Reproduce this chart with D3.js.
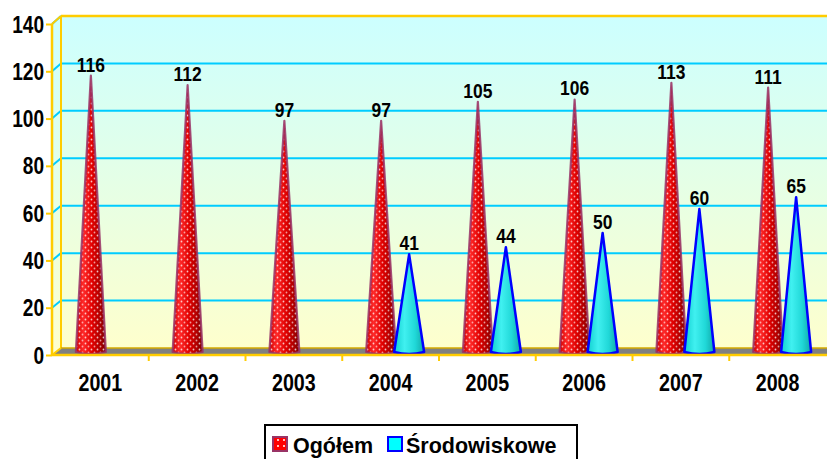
<!DOCTYPE html>
<html><head><meta charset="utf-8">
<script src="https://cdn.jsdelivr.net/npm/d3@7/dist/d3.min.js"></script>
<style>html,body{margin:0;padding:0;background:#fff;}svg{display:block;}</style>
</head><body><svg id="c" width="827" height="459"></svg>
<script>
const categories = ["2001","2002","2003","2004","2005","2006","2007","2008"];
const ogolem = [116,112,97,97,105,106,113,111];
const srodowiskowe = [null,null,null,41,44,50,60,65];
const yTicks = [0,20,40,60,80,100,120,140];
const seriesNames = ["Ogółem","Środowiskowe"];

const svg = d3.select("#c");
const W = 827;
const x0 = 52, x1 = 826, DX = 9, DY = -7;
const x = d3.scaleBand().domain(categories).range([x0, x1]);
const yF = d3.scaleLinear().domain([0,140]).range([355,24]);
const yB = d3.scaleLinear().domain([0,140]).range([348,16]);
const yC = d3.scaleLinear().domain([0,140]).range([352,18.5]);
const FONT = "'Liberation Sans', Arial, sans-serif";

const defs = svg.append("defs");
const wg2 = defs.append("linearGradient").attr("id","wallG").attr("gradientUnits","userSpaceOnUse").attr("x1",0).attr("y1",16).attr("x2",0).attr("y2",355);
wg2.append("stop").attr("offset","0%").attr("stop-color","#ccffff");
wg2.append("stop").attr("offset","100%").attr("stop-color","#ffffcc");

const rg = defs.append("linearGradient").attr("id","redG").attr("x1",0).attr("y1",0).attr("x2",1).attr("y2",0);
[["0%","#d40000"],["25%","#ff2a2a"],["55%","#e00000"],["80%","#b00000"],["100%","#7a0000"]].forEach(s=>rg.append("stop").attr("offset",s[0]).attr("stop-color",s[1]));
const pat = defs.append("pattern").attr("id","dots").attr("patternUnits","userSpaceOnUse").attr("width",6).attr("height",6);
pat.append("circle").attr("cx",1.5).attr("cy",1.5).attr("r",0.9).attr("fill","#ffffff").attr("opacity",0.75);
pat.append("circle").attr("cx",4.5).attr("cy",4.5).attr("r",0.9).attr("fill","#ffffff").attr("opacity",0.6);
const patS = defs.append("pattern").attr("id","dotsS").attr("patternUnits","userSpaceOnUse").attr("width",6).attr("height",6);
patS.append("rect").attr("width",6).attr("height",6).attr("fill","#ff0000");
patS.append("circle").attr("cx",2).attr("cy",2).attr("r",1).attr("fill","#ffffff");

const tg = defs.append("linearGradient").attr("id","tealG").attr("x1",0).attr("y1",0).attr("x2",1).attr("y2",0);
[["0%","#10d0d0"],["35%","#40f0f0"],["70%","#20d8d8"],["100%","#10a8a8"]].forEach(s=>tg.append("stop").attr("offset",s[0]).attr("stop-color",s[1]));

const gold = "#ffcc00";
svg.append("rect").attr("x",x0+DX).attr("y",yB(140)).attr("width",W-(x0+DX)+5).attr("height",yB(0)-yB(140)).attr("fill","url(#wallG)");
svg.append("path").attr("d",`M${x0},${yF(140)}L${x0+DX},${yB(140)}L${x0+DX},${yB(0)}L${x0},${yF(0)}Z`).attr("fill","url(#wallG)");
yTicks.filter(t=>t>0).forEach(t=>{
  svg.append("line").attr("x1",x0+DX).attr("x2",W+5).attr("y1",yB(t)).attr("y2",yB(t)).attr("stroke","#00ccff").attr("stroke-width",2);
  svg.append("line").attr("x1",x0).attr("x2",x0+DX).attr("y1",yF(t)).attr("y2",yB(t)).attr("stroke","#00ccff").attr("stroke-width",2);
});
svg.append("path").attr("d",`M${x0},${yF(0)}L${x0+DX},${yB(0)}L${W+5},${yB(0)}L${W+5},${yF(0)}Z`).attr("fill","#808080");
svg.append("line").attr("x1",x0+DX).attr("x2",W+5).attr("y1",yB(140)).attr("y2",yB(140)).attr("stroke",gold).attr("stroke-width",2.5);
svg.append("line").attr("x1",x0+DX).attr("x2",x0+DX).attr("y1",yB(140)).attr("y2",yB(0)).attr("stroke",gold).attr("stroke-width",2);
svg.append("line").attr("x1",x0).attr("x2",x0+DX).attr("y1",yF(140)).attr("y2",yB(140)).attr("stroke",gold).attr("stroke-width",2);
svg.append("line").attr("x1",x0+DX).attr("x2",W+5).attr("y1",yB(0)).attr("y2",yB(0)).attr("stroke","#d4aa00").attr("stroke-width",1.5);
svg.append("line").attr("x1",x0).attr("x2",x0+DX).attr("y1",yF(0)).attr("y2",yB(0)).attr("stroke",gold).attr("stroke-width",2);

function conePath(cx, tip, base, hw){
  return `M${cx-hw},${base}L${cx},${tip}L${cx+hw},${base}Q${cx},${base+4} ${cx-hw},${base}Z`;
}
const hw = 15;
const redX = c => x(c) + x.bandwidth()/2 - 9.5;
const tealX = c => x(c) + x.bandwidth()/2 + 18.5;
const gR = svg.append("g");
ogolem.forEach((v,i)=>{
  const c = categories[i];
  const d = conePath(redX(c), yC(v), yC(0), hw);
  gR.append("path").attr("d",d).attr("fill","url(#redG)");
  gR.append("path").attr("d",d).attr("fill","url(#dots)").attr("stroke","#993366").attr("stroke-width",2.2).attr("stroke-opacity",0.85).attr("stroke-linejoin","round");
});
const gT = svg.append("g");
srodowiskowe.forEach((v,i)=>{
  if(v==null) return;
  const c = categories[i];
  gT.append("path").attr("d",conePath(tealX(c), yC(v), yC(0), hw)).attr("fill","url(#tealG)").attr("stroke","#0000ff").attr("stroke-width",2.5).attr("stroke-linejoin","round");
});

svg.append("line").attr("x1",x0).attr("x2",x0).attr("y1",yF(140)).attr("y2",yF(0)+1).attr("stroke",gold).attr("stroke-width",2.5);
svg.append("line").attr("x1",x0).attr("x2",W+5).attr("y1",yF(0)).attr("y2",yF(0)).attr("stroke",gold).attr("stroke-width",2.5);
const yAxis = d3.axisLeft(yF).tickValues(yTicks).tickSize(6).tickFormat(d3.format("d"));
const ga = svg.append("g").attr("transform",`translate(${x0},0)`).call(yAxis);
ga.select(".domain").remove();
ga.selectAll(".tick line").attr("stroke",gold).attr("stroke-width",2);
ga.selectAll(".tick text").remove();
yTicks.forEach(t=>{
  svg.append("text").attr("transform",`translate(44,${yF(t)+8.5}) scale(0.83,1)`).attr("text-anchor","end")
    .attr("font-family",FONT).attr("font-weight","bold").attr("font-size",23).attr("fill","#000").text(t);
});
const xAxis = d3.axisBottom(x).tickSize(0).tickFormat("");
const gx = svg.append("g").attr("transform",`translate(0,${yF(0)})`).call(xAxis);
gx.select(".domain").remove();
categories.forEach((c,i)=>{
  if(i>0) svg.append("line").attr("x1",x(c)).attr("x2",x(c)).attr("y1",yF(0)).attr("y2",yF(0)+6).attr("stroke",gold).attr("stroke-width",2);
  svg.append("text").attr("transform",`translate(${x(c)+x.bandwidth()/2},391) scale(0.82,1)`).attr("text-anchor","middle")
    .attr("font-family",FONT).attr("font-weight","bold").attr("font-size",24).attr("fill","#000").text(c);
});

function label(cx, v){
  svg.append("text").attr("transform",`translate(${cx},${yC(v)-4}) scale(0.83,1)`).attr("text-anchor","middle")
    .attr("font-family",FONT).attr("font-weight","bold").attr("font-size",21).attr("fill","#000").text(v);
}
ogolem.forEach((v,i)=>label(redX(categories[i]), v));
srodowiskowe.forEach((v,i)=>{ if(v!=null) label(tealX(categories[i]), v); });

const lg = svg.append("g");
lg.append("rect").attr("x",265).attr("y",425).attr("width",312).attr("height",45).attr("fill","#fff").attr("stroke","#000").attr("stroke-width",2);
lg.append("rect").attr("x",273).attr("y",437).attr("width",14).attr("height",14).attr("fill","url(#dotsS)").attr("stroke","#993366").attr("stroke-width",2);
lg.append("text").attr("x",293).attr("y",452.5).attr("font-family",FONT).attr("font-weight","bold").attr("font-size",21.5).text(seriesNames[0]);
lg.append("rect").attr("x",388).attr("y",437).attr("width",14).attr("height",14).attr("fill","#00ffff").attr("stroke","#0000ff").attr("stroke-width",2);
lg.append("text").attr("x",406).attr("y",452.5).attr("font-family",FONT).attr("font-weight","bold").attr("font-size",21.5).text(seriesNames[1]);
</script></body></html>
